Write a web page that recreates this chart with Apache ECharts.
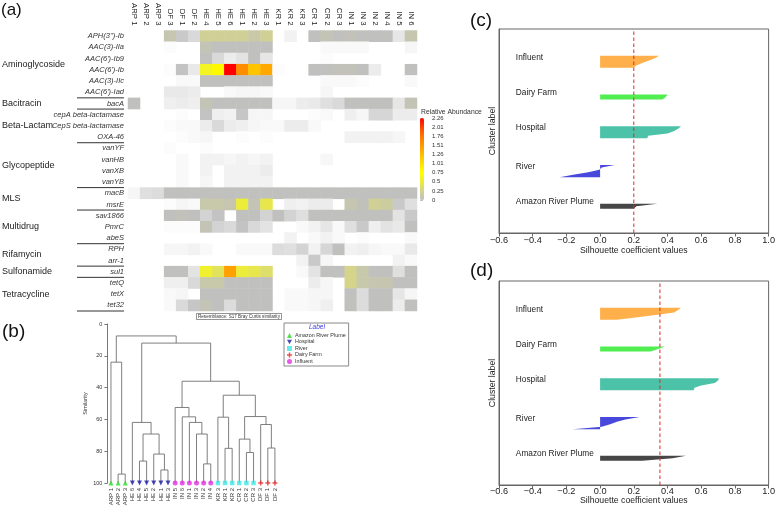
<!DOCTYPE html>
<html><head><meta charset="utf-8">
<script src="https://cdn.jsdelivr.net/npm/echarts@6/dist/echarts.min.js"></script>
<style>html,body{margin:0;padding:0;background:#fff}#c{width:778px;height:510px}</style>
</head><body><div id="c"></div><script>
const _ = null;
// ---------- (a) heatmap data ----------
const sampleCols = ['ARP 1','ARP 2','ARP 3','DF 3','DF 1','DF 2','HE 4','HE 5','HE 6','HE 1','HE 2','HE 3','KR 1','KR 2','KR 3','CR 1','CR 2','CR 3','IN 1','IN 3','IN 2','IN 4','IN 5','IN 6'];
const geneRows = ["APH(3'')-Ib","AAC(3)-IIa","AAC(6')-Ib9","AAC(6')-Ib","AAC(3)-IIc","AAC(6')-Iad","bacA","cepA beta-lactamase","CepS beta-lactamase","OXA-46","vanYF","vanHB","vanXB","vanYB","macB","msrE","sav1866","PmrC","abeS","RPH","arr-1","sul1","tetQ","tetX","tet32"];
const groupNames = ['Aminoglycoside','Bacitracin','Beta-Lactam','Glycopeptide','MLS','Multidrug','Rifamycin','Sulfonamide','Tetracycline'];
const groupSizes = [6,1,3,4,2,3,2,1,3];
// relative abundance; null = not detected (white); negative = trace level (light grey shading)
const abundance = [
 [_,_,_, 0.08,-0.15,-0.4, 0.2,0.2,0.2,0.2,0.12,0.2, _,-0.8,_, 0,0.05,0, 0.03,0,0,0,-0.6,0.08],
 [_,_,_, -0.95,_,_, 0.05,0,0,0,0,0, _,_,_, _,-0.9,-0.9, -0.9,-0.9,_,_,_,-0.85],
 [_,_,_, _,_,_, 0,-0.4,-0.7,-0.55,0,-0.6, _,_,_, _,-0.95,_, _,_,_,_,_,_],
 [_,_,_, -0.95,-0.05,-0.65, 0.6,0.8,2.26,1.6,1.2,1.4, -0.95,_,_, 0,0,0.03, 0.03,0,-0.7,_,_,0],
 [_,_,_, _,-0.9,-0.9, 0,0,0,0,0,0, _,_,_, _,-0.9,-0.9, -0.9,-0.95,_,_,_,-0.9],
 [_,_,_, -0.65,-0.65,-0.7, _,_,-0.9,-0.85,-0.85,-0.9, _,_,_, _,-0.85,_, _,_,_,_,_,_],
 [0,_,_, -0.75,-0.7,-0.75, 0.05,0,0,0,0,0, -0.85,-0.85,-0.7, -0.65,-0.5,-0.4, 0,0,0,0,-0.6,0.05],
 [_,_,_, _,-0.95,_, -0.05,-0.75,-0.8,-0.1,-0.85,-0.85, _,_,_, -0.95,-0.9,_, -0.75,-0.85,-0.35,-0.35,-0.7,-0.7],
 [_,_,_, -0.95,-0.9,-0.9, -0.7,-0.4,-0.7,-0.75,-0.85,-0.9, -0.9,-0.7,-0.7, -0.9,_,_, _,_,_,_,_,_],
 [_,_,_, _,-0.95,-0.9, -0.85,_,_,-0.95,_,-0.95, _,_,_, _,_,_, -0.8,-0.8,-0.8,-0.8,-0.85,_],
 [_,_,_, -0.95,_,_, -0.95,_,_,_,_,_, _,_,_, _,_,_, _,_,_,_,_,_],
 [_,_,_, _,-0.9,_, -0.8,-0.8,-0.85,-0.8,-0.85,-0.8, _,_,_, _,-0.88,_, _,_,_,_,_,_],
 [_,_,_, _,-0.9,_, -0.8,_,-0.8,-0.8,-0.8,-0.7, _,_,_, _,_,_, _,_,_,_,_,_],
 [_,_,_, _,-0.9,_, -0.85,_,-0.8,-0.8,-0.8,-0.8, _,_,_, _,_,_, _,_,_,_,_,_],
 [-0.85,-0.5,-0.45, 0,0,0, 0,0,0,0,0,0, 0,0,0, 0,0,0, 0,0,0,0,0,0],
 [_,_,_, -0.95,-0.85,-0.9, 0.1,0.1,0.08,0.5,0.05,0.45, _,-0.75,-0.8, -0.7,-0.7,_, 0.08,0.02,0.2,0.15,-0.15,-0.5],
 [_,_,_, 0,0.03,0, -0.3,-0.05,_,0,0,-0.3, 0,-0.3,-0.5, 0,0,0, 0,0,0,0,-0.55,-0.15],
 [_,_,_, -0.95,-0.95,-0.95, 0.05,-0.3,-0.4,-0.05,-0.4,-0.55, _,_,-0.9, -0.8,-0.6,-0.9, -0.5,-0.15,-0.75,-0.55,-0.65,0],
 [_,_,_, _,_,_, _,_,_,_,_,_, _,-0.8,_, -0.9,-0.8,-0.9, _,-0.95,_,_,_,-0.9],
 [_,_,_, -0.85,-0.85,-0.8, -0.9,_,_,-0.9,-0.9,-0.9, -0.45,-0.5,-0.3, -0.8,-0.35,0, -0.8,-0.75,-0.85,-0.9,-0.9,-0.65],
 [_,_,_, _,_,_, _,_,_,_,_,_, _,_,-0.8, -0.15,-0.85,_, _,_,_,_,-0.8,-0.9],
 [_,_,_, 0,0,-0.55, 0.55,0.4,1.45,0.5,0.45,0.35, _,_,-0.9, -0.55,0,0, 0.25,0.1,0,0,-0.5,0],
 [_,_,_, -0.75,-0.75,-0.4, 0.1,0.1,0,0,0,0, _,_,_, -0.7,-0.85,_, 0.25,0.1,0.08,0.08,0,0],
 [_,_,_, -0.9,-0.85,_, 0,0,0,0,0,0, _,-0.9,-0.9, -0.85,-0.85,_, 0,-0.45,0,0,-0.6,-0.85],
 [_,_,_, -0.9,-0.4,-0.1, 0.05,0,-0.45,0,0,0, _,-0.9,-0.9, -0.85,-0.75,_, 0,-0.45,0,0,-0.7,0]
];
const colorbarTicks = ['0','0.25','0.5','0.75','1.01','1.26','1.51','1.76','2.01','2.26'];
const colorbarMax = 2.2625;

// ---------- (b) dendrogram data ----------
const leafNames = ['ARP 1','ARP 2','ARP 3','HE 6','HE 4','HE 5','HE 2','HE 1','HE 3','IN 5','IN 6','IN 1','IN 3','IN 2','IN 4','KR 3','KR 1','KR 2','CR 1','CR 2','CR 3','DF 3','DF 1','DF 2'];
const sourceLabels = ['Amazon River Plume','Hospital','River','Dairy Farm','Influent'];
const leafSource = [0,0,0,1,1,1,1,1,1,4,4,4,4,4,4,2,2,2,2,2,2,3,3,3];
// [child a, child b, similarity]; leaves 0..23, merge k -> 24+k
const merges = [
 [1,2,94.4],[0,24,24],[7,8,91.8],[6,26,81.8],[4,5,86.2],[28,27,69.2],[3,29,61.9],
 [13,14,88],[12,31,69.2],[11,32,61.9],[10,33,58.4],[9,34,52.5],
 [16,17,78.2],[15,36,58.6],[19,20,80.8],[18,38,72.4],[22,23,78],[21,40,63.2],
 [39,41,58.2],[37,42,44.8],[35,43,36],[30,44,12],[25,45,7.5]
];

// ---------- (c)/(d) silhouette data (bottom -> top clusters) ----------
const clusterNames = ['Amazon River Plume','River','Hospital','Dairy Farm','Influent'];
const silC_Amazon = [0.20, 0.215, 0.34];
const silC_River = [-0.24, -0.16, -0.07, -0.005, 0.01, 0.085];
const silC_Hospital = [0.28, 0.285, 0.40, 0.44, 0.465, 0.48];
const silC_Dairy = [0.37, 0.39, 0.40];
const silC_Influent = [0.20, 0.215, 0.25, 0.29, 0.325, 0.35];
const silC_avg = 0.20;
const silD_Amazon = [0.25, 0.43, 0.51];
const silD_River = [-0.163, 0.01, 0.06, 0.10, 0.15, 0.235];
const silD_Hospital = [0.555, 0.56, 0.60, 0.68, 0.70, 0.705];
const silD_Dairy = [0.30, 0.345, 0.385];
const silD_Influent = [0.10, 0.21, 0.33, 0.44, 0.46, 0.48];
const silD_avg = 0.355;

// ---------- styling ----------
const FONT = "'Liberation Sans', Arial, Helvetica, sans-serif";
const clusterColors = ['#464646','#4848dc','#4cc2a8','#50ee50','#ffb04b'];
const sourceSymbols = ['triangle','path://M0,0 L10,0 L5,9 Z','rect','path://M3.5,0 L6.5,0 L6.5,3.5 L10,3.5 L10,6.5 L6.5,6.5 L6.5,10 L3.5,10 L3.5,6.5 L0,6.5 L0,3.5 L3.5,3.5 Z','circle'];
const sourceColors = ['#2bd82b','#1e1ea8','#3ee8e8','#e82424','#e22ee2'];
const sourceSizes = [5,5,4.5,5,5];
const rampStops = [[-1,'#ffffff'],[0,'#c0c0c0'],[0.25,'#d4d48c'],[0.5,'#ecec3a'],[0.75,'#ffff00'],[1.01,'#ffe000'],[1.26,'#ffbb00'],[1.51,'#ff9900'],[1.76,'#ff7700'],[2.01,'#ff4400'],[2.2625,'#ff0000']];
function hex2rgb(h){return [1,3,5].map(i=>parseInt(h.substr(i,2),16));}
function rampColor(v){
  for(let i=1;i<rampStops.length;i++){
    const [v0,c0]=rampStops[i-1],[v1,c1]=rampStops[i];
    if(v<=v1||i===rampStops.length-1){
      const t=Math.max(0,Math.min(1,(v-v0)/(v1-v0)));
      const a=hex2rgb(c0),b=hex2rgb(c1);
      return 'rgb('+a.map((x,k)=>Math.round(x+(b[k]-x)*t)).join(',')+')';
    }
  }
}
function rampList(min,max,n){const out=[];for(let i=0;i<n;i++)out.push(rampColor(min+(max-min)*i/(n-1)));return out;}

// ---------- build ----------
const heatData=[];
abundance.forEach((row,r)=>row.forEach((v,c)=>{if(v!==null)heatData.push([c,r,v]);}));

const nodeX=leafNames.map((_n,i)=>i), nodeH=leafNames.map(()=>100), linkData=[];
merges.forEach(([a,b,h])=>{linkData.push([nodeX[a],nodeH[a],nodeX[b],nodeH[b],h]);nodeX.push((nodeX[a]+nodeX[b])/2);nodeH.push(h);});

const silGap=10;
const silYMax=[silC_Amazon,silC_River,silC_Hospital,silC_Dairy,silC_Influent].reduce((s,a)=>s+a.length+silGap,silGap);

function silX(gi,margin,gap){return {gridIndex:gi,type:'value',min:-0.6,max:1.0,interval:0.2,name:'Silhouette coefficient values',nameLocation:'middle',nameGap:gap,nameTextStyle:{fontSize:8.7,color:'#222'},axisLine:{show:true,onZero:false,lineStyle:{color:'#666'}},axisTick:{show:true,length:3.5,lineStyle:{color:'#666'}},axisLabel:{fontSize:9.2,color:'#222',margin:margin,formatter:v=>(v<-1e-9?'\u2212':'')+Math.abs(v).toFixed(1)},splitLine:{show:false}};}
function silY(gi){return {gridIndex:gi,type:'value',min:0,max:silYMax,name:'Cluster label',nameLocation:'middle',nameGap:2,nameTextStyle:{fontSize:8.7,color:'#222'},axisLine:{show:true,onZero:false,lineStyle:{color:'#666'}},axisTick:{show:false},axisLabel:{show:false},splitLine:{show:false}};}
function silSeries(arrays,avg,xi,yi){
  const starts=[];let y=silGap;arrays.forEach(a=>{starts.push(y);y+=a.length+silGap;});
  return [{
    type:'custom',xAxisIndex:xi,yAxisIndex:yi,data:arrays.map((a,k)=>[0,starts[k]]),silent:true,
    renderItem:(params,api)=>{
      const k=params.dataIndex,vals=arrays[k],y0=starts[k];
      const pts=[api.coord([0,y0])];
      vals.forEach((v,i)=>pts.push(api.coord([v,y0+i])));
      pts.push(api.coord([0,y0+vals.length-1]));
      return {type:'polygon',shape:{points:pts},style:{fill:clusterColors[k]}};
    }
  },{
    type:'line',xAxisIndex:xi,yAxisIndex:yi,data:[[avg,0],[avg,silYMax]],symbol:'none',silent:true,z:4,
    lineStyle:{color:'#e02828',type:[3.5,2.5],width:1},itemStyle:{color:'#e02828'}
  },{
    type:'custom',xAxisIndex:xi,yAxisIndex:yi,data:arrays.map((a,k)=>[-0.5,starts[k]]),silent:true,
    renderItem:(params,api)=>{
      const k=params.dataIndex;
      const p=api.coord([-0.5,starts[k]+arrays[k].length*0.5]);
      return {type:'text',x:p[0],y:p[1]-3,style:{text:clusterNames[k],fill:'#222',fontSize:8.3,fontFamily:FONT,align:'left',verticalAlign:'middle'}};
    }
  }];
}

const series=[
  {type:'heatmap',xAxisIndex:0,yAxisIndex:0,data:heatData,silent:true,itemStyle:{borderWidth:0}},
  {type:'heatmap',xAxisIndex:0,yAxisIndex:0,data:[],silent:true},
  {type:'custom',xAxisIndex:1,yAxisIndex:1,data:linkData,silent:true,
   renderItem:(params,api)=>{
     const pts=[api.coord([api.value(0),api.value(1)]),api.coord([api.value(0),api.value(4)]),api.coord([api.value(2),api.value(4)]),api.coord([api.value(2),api.value(3)])];
     return {type:'polyline',shape:{points:pts},style:{stroke:'#707070',lineWidth:0.9,fill:null}};
   }}
];
sourceLabels.forEach((name,g)=>{
  const d=[];leafSource.forEach((s,i)=>{if(s===g)d.push([i,100]);});
  series.push({type:'scatter',name:name,xAxisIndex:1,yAxisIndex:1,data:d,symbol:sourceSymbols[g],symbolSize:sourceSizes[g],itemStyle:{color:sourceColors[g]},z:5,silent:true});
});
series.push(...silSeries([silC_Amazon,silC_River,silC_Hospital,silC_Dairy,silC_Influent],silC_avg,3,2));
series.push(...silSeries([silD_Amazon,silD_River,silD_Hospital,silD_Dairy,silD_Influent],silD_avg,4,3));

const cbStep=colorbarMax/9;
const option={
  animation:false,
  textStyle:{fontFamily:FONT},
  title:[
    {text:'Resemblance: S17 Bray Curtis similarity',left:196,top:313,padding:[1,2],borderColor:'#666',borderWidth:0.7,textStyle:{fontSize:4.6,fontWeight:'normal',color:'#333',fontFamily:FONT}},
    {text:'Label',left:309,top:323.5,padding:0,textStyle:{fontSize:6.5,fontStyle:'italic',fontWeight:'normal',color:'#3a3adf',fontFamily:FONT}}
  ],
  legend:{data:sourceLabels,orient:'vertical',left:284,top:323,padding:[10,3,2,3],itemWidth:5,itemHeight:5,itemGap:1.5,borderColor:'#888',borderWidth:1,selectedMode:false,textStyle:{fontSize:5.4,color:'#333',padding:[0,0,0,-2]}},
  grid:[
    {left:128,top:30,width:289,height:281},
    {left:107.4,top:324,width:171.1,height:159},
    {left:499,top:29,width:271,height:204,show:true,borderColor:'#666',borderWidth:1},
    {left:499,top:281,width:271,height:204,show:true,borderColor:'#666',borderWidth:1},
    {left:420,top:118,width:4,height:82}
  ],
  xAxis:[
    {gridIndex:0,type:'category',position:'top',data:sampleCols,axisLine:{show:false},axisTick:{show:false},axisLabel:{rotate:90,interval:0,fontSize:7.8,color:'#222',margin:5},splitLine:{show:false}},
    {gridIndex:1,type:'value',position:'top',min:-0.5,max:23.5,show:false},
    {gridIndex:1,type:'category',position:'bottom',data:leafNames,axisLine:{show:false},axisTick:{show:false},axisLabel:{rotate:90,interval:0,fontSize:6,color:'#333',margin:5}},
    silX(2,3,13.5),
    silX(3,1.5,8),
    {gridIndex:4,type:'value',show:false}
  ],
  yAxis:[
    {gridIndex:0,type:'category',inverse:true,data:geneRows,axisLine:{show:false},axisTick:{show:false},axisLabel:{interval:0,fontSize:7.5,fontStyle:'italic',color:'#333',margin:4}},
    {gridIndex:1,type:'value',inverse:true,min:0,max:100,interval:20,name:'Similarity',nameLocation:'middle',nameGap:19,nameTextStyle:{fontSize:5.5,color:'#333'},axisLine:{show:true,onZero:false,lineStyle:{color:'#555',width:0.8}},axisTick:{show:true,length:3,lineStyle:{color:'#555',width:0.8}},axisLabel:{fontSize:5.5,color:'#333',margin:5},splitLine:{show:false}},
    silY(2),silY(3),
    {gridIndex:4,type:'value',position:'right',min:0,max:colorbarMax,interval:cbStep,axisLine:{show:false},axisTick:{show:true,length:3,lineStyle:{color:'#999',width:0.6}},axisLabel:{fontSize:6,color:'#333',margin:8,formatter:v=>colorbarTicks[Math.round(v/cbStep)]},splitLine:{show:false}}
  ],
  visualMap:[
    {type:'continuous',show:false,seriesIndex:0,dimension:2,min:-1,max:colorbarMax,inRange:{color:rampList(-1,colorbarMax,131)}},
    {type:'continuous',show:true,seriesIndex:1,dimension:2,min:0,max:colorbarMax,calculable:false,hoverLink:false,orient:'vertical',left:420,top:118,itemWidth:4,itemHeight:82,padding:0,inRange:{color:rampList(0,colorbarMax,91)}}
  ],
  series:series
};
const chart=echarts.init(document.getElementById('c'));
chart.setOption(option);

// group labels & separators computed from the heatmap's category axis
const gfx=[];
const band=chart.convertToPixel({yAxisIndex:0},geneRows[1])-chart.convertToPixel({yAxisIndex:0},geneRows[0]);
let start=0;
groupNames.forEach((g,i)=>{
  const end=start+groupSizes[i]-1;
  const yTop=chart.convertToPixel({yAxisIndex:0},geneRows[start]);
  const yBot=chart.convertToPixel({yAxisIndex:0},geneRows[end]);
  gfx.push({type:'text',x:2,y:(yTop+yBot)/2,style:{text:g,fontSize:9,fill:'#222',fontFamily:FONT,verticalAlign:'middle',align:'left'}});
  gfx.push({type:'line',shape:{x1:77,y1:yBot+band/2,x2:124,y2:yBot+band/2},style:{stroke:'#333',lineWidth:1}});
  start=end+1;
});
gfx.push({type:'text',x:1,y:2,style:{text:'(a)',fontSize:17,fill:'#111',fontFamily:FONT}});
gfx.push({type:'text',x:2,y:322,style:{text:'(b)',fontSize:19,fill:'#111',fontFamily:FONT}});
gfx.push({type:'text',x:470,y:11,style:{text:'(c)',fontSize:19,fill:'#111',fontFamily:FONT}});
gfx.push({type:'text',x:470,y:261,style:{text:'(d)',fontSize:19,fill:'#111',fontFamily:FONT}});
gfx.push({type:'text',x:421,y:109,style:{text:'Relative Abundance',fontSize:6.8,fill:'#333',fontFamily:FONT}});
chart.setOption({graphic:gfx});
</script></body></html>
